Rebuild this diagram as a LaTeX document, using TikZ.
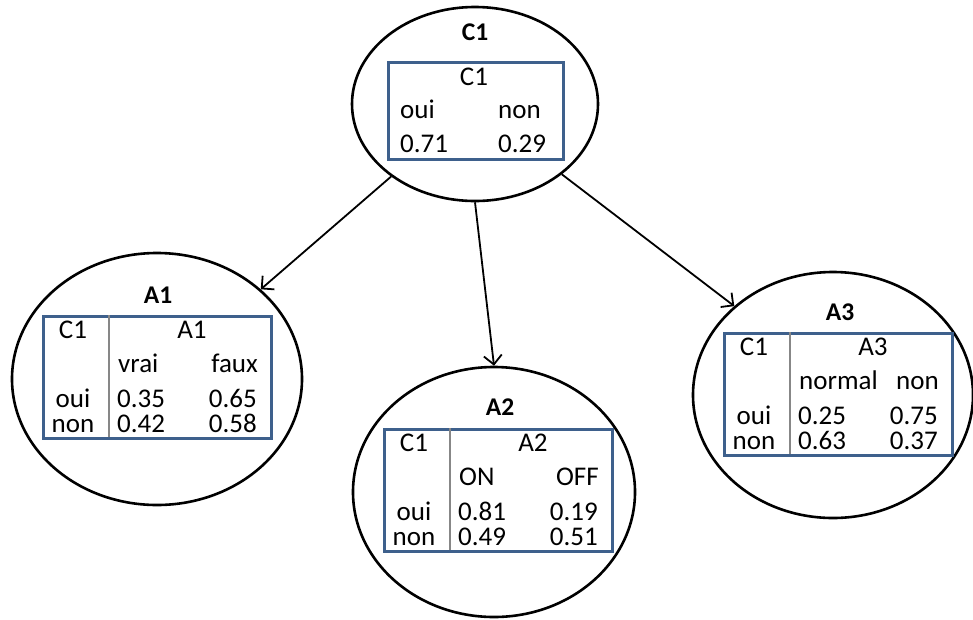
\documentclass[tikz,border=0pt]{standalone}
\usepackage{fontspec}
\setmainfont{Carlito}
\usetikzlibrary{arrows.meta,shapes.geometric}
\definecolor{boxblue}{RGB}{62,96,140}
\definecolor{divgray}{RGB}{135,135,135}
\tikzset{
  ell/.style={ellipse, draw=black, line width=2.6pt, inner sep=0pt},
  tbox/.style={draw=boxblue, line width=2.6pt, inner sep=0pt},
  divline/.style={draw=divgray, line width=2.2pt},
  txt/.style={inner sep=0pt, font=\fontsize{27}{27}\selectfont},
  ttl/.style={inner sep=0pt, font=\fontsize{25.5}{25.5}\selectfont\bfseries},
  arr/.style={line width=1.8pt, -{Straight Barb[length=9pt,width=18pt,line width=1.8pt]}}
}
\newcommand\cptable[9]{%
  \begin{scope}[shift={#2}]
    \node[tbox, minimum width=228pt, minimum height=122pt, anchor=north west] (#1) at (0,0) {};
    \coordinate (#1-dt) at (67,0);
    \coordinate (#1-db) at (67,122);
    \draw[divline] (#1-dt) -- (#1-db);
    \node[txt, anchor=base] (#1-c) at (31,23) {C1};
    \node[txt, anchor=base] (#1-v) at (150,23) {#3};
    \node[txt, anchor=base west] (#1-s1) at (76,57) {#4};
    \node[txt, anchor=base east] (#1-s2) at (216,57) {#5};
    \node[txt, anchor=base] (#1-r1) at (31,92) {oui};
    \node[txt, anchor=base] (#1-r2) at (31,117) {non};
    \node[txt, anchor=base west] (#1-p11) at (75,92) {#6};
    \node[txt, anchor=base east] (#1-p12) at (215,92) {#7};
    \node[txt, anchor=base west] (#1-p21) at (75,117) {#8};
    \node[txt, anchor=base east] (#1-p22) at (215,117) {#9};
  \end{scope}}
\begin{document}
\begin{tikzpicture}[x=1pt,y=-1pt]
  \useasboundingbox (0,0) rectangle (973,619);
  % ellipses
  \node[ell, minimum width=246pt, minimum height=194pt] (C1) at (475,104) {};
  \node[ell, minimum width=290pt, minimum height=252pt] (A1) at (157,379) {};
  \node[ell, minimum width=282pt, minimum height=250pt] (A2) at (494,492) {};
  \node[ell, minimum width=280pt, minimum height=246pt] (A3) at (833,395) {};
  % titles
  \node[ttl, anchor=base] (C1t) at (475,40) {C1};
  \node[ttl, anchor=base] (A1t) at (158,303) {A1};
  \node[ttl, anchor=base] (A2t) at (500,415) {A2};
  \node[ttl, anchor=base] (A3t) at (840,320) {A3};
  % C1 table
  \node[tbox, minimum width=175pt, minimum height=97pt, anchor=north west] (C1b) at (387,61) {};
  \node[txt, anchor=base] (C1v) at (474,85) {C1};
  \node[txt, anchor=base west] (C1s1) at (400,118) {oui};
  \node[txt, anchor=base west] (C1s2) at (498,118) {non};
  \node[txt, anchor=base west] (C1p1) at (400,152) {0.71};
  \node[txt, anchor=base west] (C1p2) at (498,152) {0.29};
  % CPTs
  \cptable{T1}{(42,315)}{A1}{vrai}{faux}{0.35}{0.65}{0.42}{0.58}
  \cptable{T2}{(383,428)}{A2}{ON}{OFF}{0.81}{0.19}{0.49}{0.51}
  \cptable{T3}{(723,332)}{A3}{normal}{non}{0.25}{0.75}{0.63}{0.37}
  % arrows
  \draw[arr] (C1) -- (A1);
  \draw[arr] (C1.south) -- (A2.north);
  \draw[arr] (C1.-39) -- (A3.138);
\end{tikzpicture}
\end{document}
